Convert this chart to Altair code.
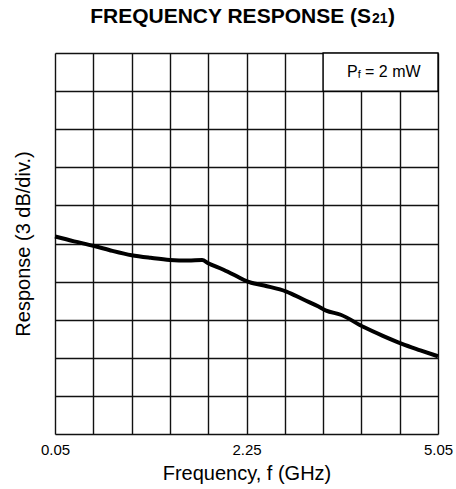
import altair as alt
import pandas as pd

# ---- data ----
freq_ghz = [0.05, 0.30, 0.55, 0.80, 1.05, 1.30, 1.55, 1.79, 1.97, 2.05, 2.25, 2.43,
            2.55, 2.78, 3.07, 3.30, 3.49, 3.59, 3.78, 4.08, 4.33, 4.58, 4.82, 5.05]
response_db = [15.55, 15.17, 14.82, 14.42, 14.08, 13.87, 13.71, 13.67, 13.70, 13.45, 12.93, 12.40,
               12.04, 11.69, 11.22, 10.57, 10.04, 9.72, 9.39, 8.42, 7.73, 7.10, 6.59, 6.12]

x_grid = [0.05, 0.55, 1.05, 1.55, 2.05, 2.55, 3.05, 3.55, 4.05, 4.55, 5.05]
y_grid = [0, 3, 6, 9, 12, 15, 18, 21, 24, 27, 30]
tick_pos = [0.05, 2.55, 5.05]
tick_labels = ["0.05", "2.25", "5.05"]

legend_box_x = [3.55, 5.05]
legend_box_y = [27, 30]

FONT = "Liberation Sans"
W, H = 383, 381

label_expr = ""
for p, l in zip(tick_pos, tick_labels):
    label_expr += f"abs(datum.value - {p}) < 0.01 ? '{l}' : "
label_expr += "''"

df = pd.DataFrame({"f": freq_ghz, "r": response_db})

xscale = alt.Scale(domain=[0.05, 5.05], nice=False, zero=False)
yscale = alt.Scale(domain=[0, 30], nice=False, zero=False)

xaxis = alt.Axis(values=x_grid, tickCount=len(x_grid), labelExpr=label_expr, ticks=False, domain=False,
                 grid=True, gridColor="#111", gridWidth=1.4, gridOpacity=1,
                 labelFont=FONT, labelFontSize=15, labelColor="black",
                 labelPadding=8, labelFlush=False, labelOverlap=False,
                 title="Frequency, f (GHz)", titleFont=FONT, titleFontSize=20,
                 titleFontWeight="normal", titleColor="black", titlePadding=6)
yaxis = alt.Axis(values=y_grid, tickCount=len(y_grid), labels=False, ticks=False, domain=False,
                 grid=True, gridColor="#111", gridWidth=1.4, gridOpacity=1,
                 title="Response (3 dB/div.)", titleFont=FONT, titleFontSize=20,
                 titleFontWeight="normal", titleColor="black", titlePadding=22)

line = alt.Chart(df).mark_line(color="black", strokeWidth=4, interpolate="monotone").encode(
    x=alt.X("f:Q", scale=xscale, axis=xaxis),
    y=alt.Y("r:Q", scale=yscale, axis=yaxis),
)

box_df = pd.DataFrame({"x": [legend_box_x[0]], "x2": [legend_box_x[1]],
                       "y": [legend_box_y[0]], "y2": [legend_box_y[1]]})
box = alt.Chart(box_df).mark_rect(fill="white", stroke="black", strokeWidth=1.4).encode(
    x=alt.X("x:Q", scale=xscale, axis=xaxis), x2="x2:Q",
    y=alt.Y("y:Q", scale=yscale, axis=yaxis), y2="y2:Q")

def txt(s, x, y, size, weight="normal", align="left"):
    return alt.Chart(pd.DataFrame({"t": [s]})).mark_text(
        font=FONT, fontSize=size, fontWeight=weight, align=align,
        baseline="alphabetic", color="black").encode(
        text="t:N", x=alt.value(x), y=alt.value(y))

# annotation P_f = 2 mW
pf = [txt("P", 292, 24, 16), txt("f", 302.7, 25, 11), txt("= 2 mW", 310, 24, 16)]
# title FREQUENCY RESPONSE (S21)
title = [txt("FREQUENCY RESPONSE (S", 316, -30.5, 21, "bold", "right"),
         txt("21", 317, -30.5, 14, "bold"),
         txt(")", 333, -30.5, 21, "bold")]

chart = alt.layer(box, line, *pf, *title).properties(
    width=W, height=H,
    autosize=alt.AutoSizeParams(type="none"),
    padding={"left": 55, "top": 53, "right": 18, "bottom": 55},
).configure_view(stroke="black", strokeWidth=1.6).configure(background="white")

chart.save("out.html", embed_options={"renderer": "svg", "actions": False})
